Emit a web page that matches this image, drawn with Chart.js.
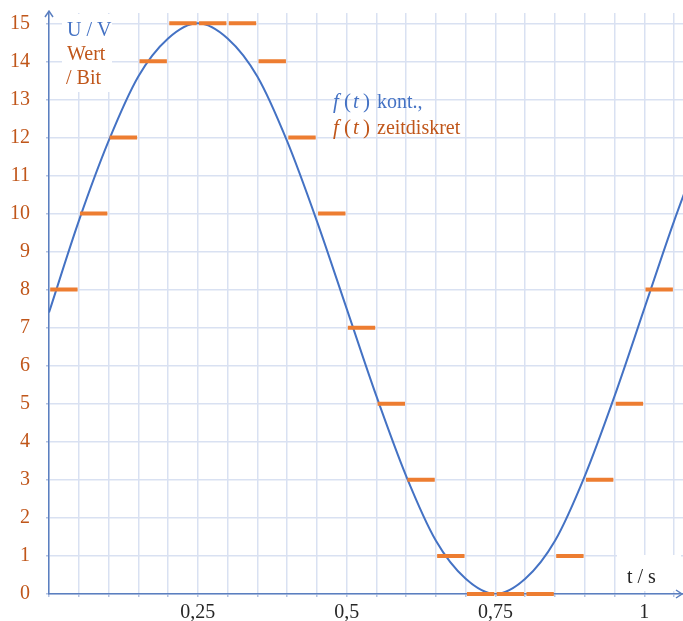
<!DOCTYPE html>
<html>
<head>
<meta charset="utf-8">
<script src="https://cdn.jsdelivr.net/npm/chart.js@4.4.1/dist/chart.umd.min.js"></script>
<style>
  html, body { margin: 0; padding: 0; background: #fff; }
  #wrap { width: 683px; height: 621px; position: relative; }
</style>
</head>
<body>
<div id="wrap"><canvas id="chart"></canvas></div>
<script>
// continuous signal U(t)
const curveT = [0, 0.05, 0.1, 0.15, 0.2, 0.25, 0.3, 0.35, 0.4, 0.45, 0.5, 0.55, 0.6, 0.65, 0.7, 0.75, 0.8, 0.85, 0.9, 0.95, 1.0, 1.05, 1.1];
const curveU = [7.4, 9.8, 11.9, 13.6, 14.6, 15, 14.6, 13.6, 11.9, 9.8, 7.5, 5.2, 3.1, 1.4, 0.4, 0, 0.4, 1.4, 3.1, 5.2, 7.5, 9.8, 11.9];

// time-discrete samples (held for one sample period)
const sampleT = [0, 0.05, 0.1, 0.15, 0.2, 0.25, 0.3, 0.35, 0.4, 0.45, 0.5, 0.55, 0.6, 0.65, 0.7, 0.75, 0.8, 0.85, 0.9, 0.95, 1.0];
const sampleBits = [8, 10, 12, 14, 15, 15, 15, 14, 12, 10, 7, 5, 3, 1, 0, 0, 0, 1, 3, 5, 8];
const samplePeriod = 0.05;

// axis labels
const xTickValues = [0.25, 0.5, 0.75, 1];
const xTickText = ["0,25", "0,5", "0,75", "1"];
const yTickValues = [0, 1, 2, 3, 4, 5, 6, 7, 8, 9, 10, 11, 12, 13, 14, 15];

const BLUE = "#4472c4";
const ORANGE = "#ed7d31";
const BROWN = "#c0561a";
const SERIF = '"Liberation Serif", "Times New Roman", serif';

// hold segments: one short line per sample, broken by null points
const holdData = [];
sampleT.forEach((t, i) => {
  holdData.push({ x: t + 0.002, y: sampleBits[i] });
  holdData.push({ x: t + samplePeriod - 0.002, y: sampleBits[i] });
  holdData.push({ x: t + samplePeriod - 0.001, y: null });
});

const curveData = curveT.map((t, i) => ({ x: t, y: curveU[i] }));

// f(t) with italic letters, spaced like the math font in the original
function mathLabel(c, x, y, rest, color) {
  c.fillStyle = color;
  c.textBaseline = "alphabetic";
  c.textAlign = "left";
  const it = "italic 21px " + SERIF, up = "21px " + SERIF;
  c.font = it; c.fillText("f", x + 2, y);
  c.font = up; c.fillText("(", x + 13, y);
  c.font = it; c.fillText("t", x + 22, y);
  c.font = up; c.fillText(")", x + 32, y);
  c.font = "20px " + SERIF; c.fillText(rest, x + 46, y);
}

const annotations = {
  id: "annotations",
  beforeDatasetsDraw(chart) {
    const c = chart.ctx;
    c.save();
    c.fillStyle = "#fff";
    c.fillRect(62, 14, 50, 78);     // behind U / V, Wert / Bit
    c.fillRect(617, 555, 64, 36);   // behind t / s
    c.restore();
  },
  afterDraw(chart) {
    const c = chart.ctx;
    const area = chart.chartArea;
    const x0 = chart.scales.x.getPixelForValue(0);
    const y0 = chart.scales.y.getPixelForValue(0);
    c.save();

    // axis arrows
    c.strokeStyle = "#5b7fc0";
    c.lineWidth = 1.5;
    c.beginPath();
    c.moveTo(x0, area.top); c.lineTo(x0, area.top - 2);
    c.moveTo(x0 - 4, area.top + 4); c.lineTo(x0, area.top - 2); c.lineTo(x0 + 4, area.top + 4);
    c.moveTo(area.right - 7, y0 - 4); c.lineTo(area.right - 1, y0); c.lineTo(area.right - 7, y0 + 4);
    c.stroke();

    // axis titles
    c.textAlign = "left";
    c.textBaseline = "alphabetic";
    c.font = "20px " + SERIF;
    c.fillStyle = BLUE;
    c.fillText("U / V", 67, 36);
    c.fillStyle = BROWN;
    c.fillText("Wert", 67, 60);
    c.fillText("/ Bit", 66, 84);
    c.fillStyle = "#262626";
    c.fillText("t / s", 627, 583);

    // legend texts
    mathLabel(c, 331, 108, "kont.,", BLUE);
    mathLabel(c, 331, 134, "zeitdiskret", BROWN);
    c.restore();
  }
};

new Chart(document.getElementById("chart"), {
  type: "line",
  data: {
    datasets: [
      {
        label: "f(t) zeitdiskret",
        data: holdData,
        borderColor: ORANGE,
        borderWidth: 4,
        borderCapStyle: "butt",
        pointRadius: 0,
        spanGaps: false,
        tension: 0,
        clip: false
      },
      {
        label: "f(t) kont.",
        data: curveData,
        borderColor: BLUE,
        borderWidth: 2,
        pointRadius: 0,
        cubicInterpolationMode: "monotone"
      }
    ]
  },
  options: {
    responsive: true,
    maintainAspectRatio: false,
    animation: false,
    events: [],
    layout: { padding: { top: 13, left: 0, right: 0, bottom: 0 } },
    plugins: { legend: { display: false }, tooltip: { enabled: false } },
    scales: {
      x: {
        type: "linear",
        min: 0,
        max: 1.065,
        afterBuildTicks: s => {
          const ticks = [];
          for (let i = 0; i <= 21; i++) ticks.push({ value: Math.round(i * 5) / 100 });
          s.ticks = ticks;
        },
        afterFit: s => { s.height = 27; s.paddingLeft = 0; s.paddingRight = 0; },
        ticks: {
          autoSkip: false,
          maxRotation: 0,
          padding: 6,
          color: "#262626",
          font: { family: SERIF, size: 20, lineHeight: 1 },
          callback: v => {
            const i = xTickValues.findIndex(t => Math.abs(t - v) < 1e-6);
            return i >= 0 ? xTickText[i] : "";
          }
        },
        grid: { color: "#d9e1f2", lineWidth: 1.5, tickLength: 3, tickColor: "#b4c3e3" },
        border: { color: "#5b7fc0", width: 1.5 }
      },
      y: {
        min: 0,
        max: 15.27,
        afterBuildTicks: s => { s.ticks = yTickValues.map(v => ({ value: v })); },
        afterFit: s => { s.width = 49; s.paddingTop = 0; s.paddingBottom = 0; },
        ticks: {
          autoSkip: false,
          padding: 16,
          color: BROWN,
          font: { family: SERIF, size: 20, lineHeight: 1 },
          callback: v => String(v)
        },
        grid: { color: "#d9e1f2", lineWidth: 1.5, tickLength: 3, tickColor: "#b4c3e3" },
        border: { color: "#5b7fc0", width: 1.5 }
      }
    }
  },
  plugins: [annotations]
});
</script>
</body>
</html>
